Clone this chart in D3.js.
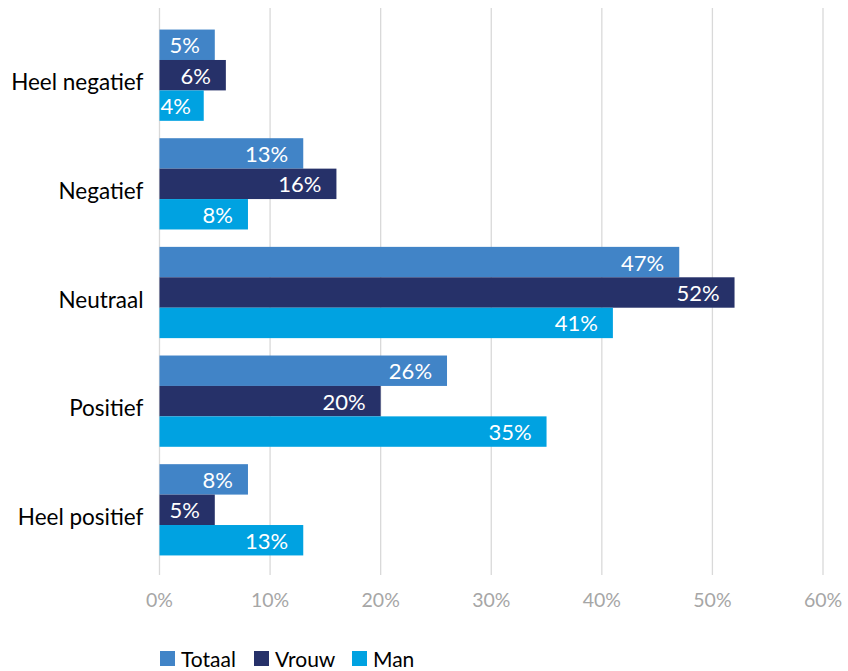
<!DOCTYPE html>
<html>
<head>
<meta charset="utf-8">
<script src="https://cdn.jsdelivr.net/npm/d3@7"></script>
<style>
  body { margin: 0; background: #fff; }
  text { font-family: Lato, "Open Sans", sans-serif; }
</style>
</head>
<body>
<svg id="chart" width="848" height="671"></svg>
<script>
// answers per category, in percent
const categories = ["Heel negatief", "Negatief", "Neutraal", "Positief", "Heel positief"];
const seriesNames = ["Totaal", "Vrouw", "Man"];
const totaal = [5, 13, 47, 26, 8];
const vrouw = [6, 16, 52, 20, 5];
const man = [4, 8, 41, 35, 13];
const xTicks = [0, 10, 20, 30, 40, 50, 60];

let svg = d3.select("#chart");
let margin = {left: 159.5, top: 10, right: 25, bottom: 96};
let width = +svg.attr("width") - margin.left - margin.right;
let height = +svg.attr("height") - margin.top - margin.bottom;

let values = {"Totaal": totaal, "Vrouw": vrouw, "Man": man};
let rows = categories.map((c, i) => ({
    category: c,
    bars: seriesNames.map((s) => ({series: s, value: values[s][i]}))
}));

let x = d3.scaleLinear().domain([0, 60]).range([0, width]);
let y0 = d3.scaleBand().domain(categories).range([0, height])
    .paddingInner(0.16).paddingOuter(0.18);
let y1 = d3.scaleBand().domain(seriesNames).range([0, y0.bandwidth()]);
let z = d3.scaleOrdinal().domain(seriesNames).range(["#4184c7", "#263169", "#00a2e1"]);

let g = svg.append("g").attr("transform", `translate(${margin.left}, ${margin.top})`);

// gridlines
g.append("g")
    .selectAll("line")
    .data(xTicks)
    .enter()
    .append("line")
    .attr("x1", (d) => x(d))
    .attr("x2", (d) => x(d))
    .attr("y1", -2)
    .attr("y2", height)
    .attr("stroke", "#d9d9d9")
    .attr("stroke-width", 1.3);

// x tick labels
g.append("g")
    .selectAll("text")
    .data(xTicks)
    .enter()
    .append("text")
    .attr("x", (d) => x(d))
    .attr("y", height + 32)
    .attr("text-anchor", "middle")
    .attr("fill", "#a6a6a6")
    .style("font-size", "19.5px")
    .text((d) => d + "%");

// category labels
g.append("g")
    .selectAll("text")
    .data(categories)
    .enter()
    .append("text")
    .attr("x", -16)
    .attr("y", (d) => y0(d) + y0.bandwidth() / 2 + 15)
    .attr("text-anchor", "end")
    .attr("fill", "#000")
    .style("font-size", "22.5px")
    .text((d) => d);

let groups = g.selectAll(".group")
    .data(rows)
    .enter()
    .append("g")
    .attr("class", "group")
    .attr("transform", (d) => `translate(0, ${y0(d.category)})`);

groups.selectAll("rect")
    .data((d) => d.bars)
    .enter()
    .append("rect")
    .attr("x", 0)
    .attr("y", (d) => y1(d.series))
    .attr("width", (d) => x(d.value))
    .attr("height", y1.bandwidth())
    .attr("fill", (d) => z(d.series));

// inside-end labels, pushed right when the bar is too short for the padding
groups.selectAll(".label")
    .data((d) => d.bars)
    .enter()
    .append("text")
    .attr("class", "label")
    .attr("y", (d) => y1(d.series) + y1.bandwidth() / 2 + 8.5)
    .attr("text-anchor", "end")
    .attr("fill", "#fff")
    .style("font-size", "22px")
    .text((d) => d.value + "%")
    .attr("x", function(d) {
        let w = this.getComputedTextLength();
        return Math.max(x(d.value) - 15, w + 1);
    });

// legend
const LEGEND_SQUARE_SIZE = 15;
let legendX = d3.scaleOrdinal().domain(seriesNames).range([160, 254, 352]);
let legend = svg.selectAll(".legend-group")
    .data(seriesNames)
    .enter()
    .append("g")
    .attr("class", "legend-group");
legend.append("rect")
    .attr("x", (d) => legendX(d))
    .attr("y", 651)
    .attr("width", LEGEND_SQUARE_SIZE)
    .attr("height", LEGEND_SQUARE_SIZE)
    .attr("fill", (d) => z(d));
legend.append("text")
    .attr("x", (d) => legendX(d) + LEGEND_SQUARE_SIZE + 6)
    .attr("y", 666.5)
    .attr("fill", "#000")
    .style("font-size", "21px")
    .text((d) => d);
</script>
</body>
</html>
